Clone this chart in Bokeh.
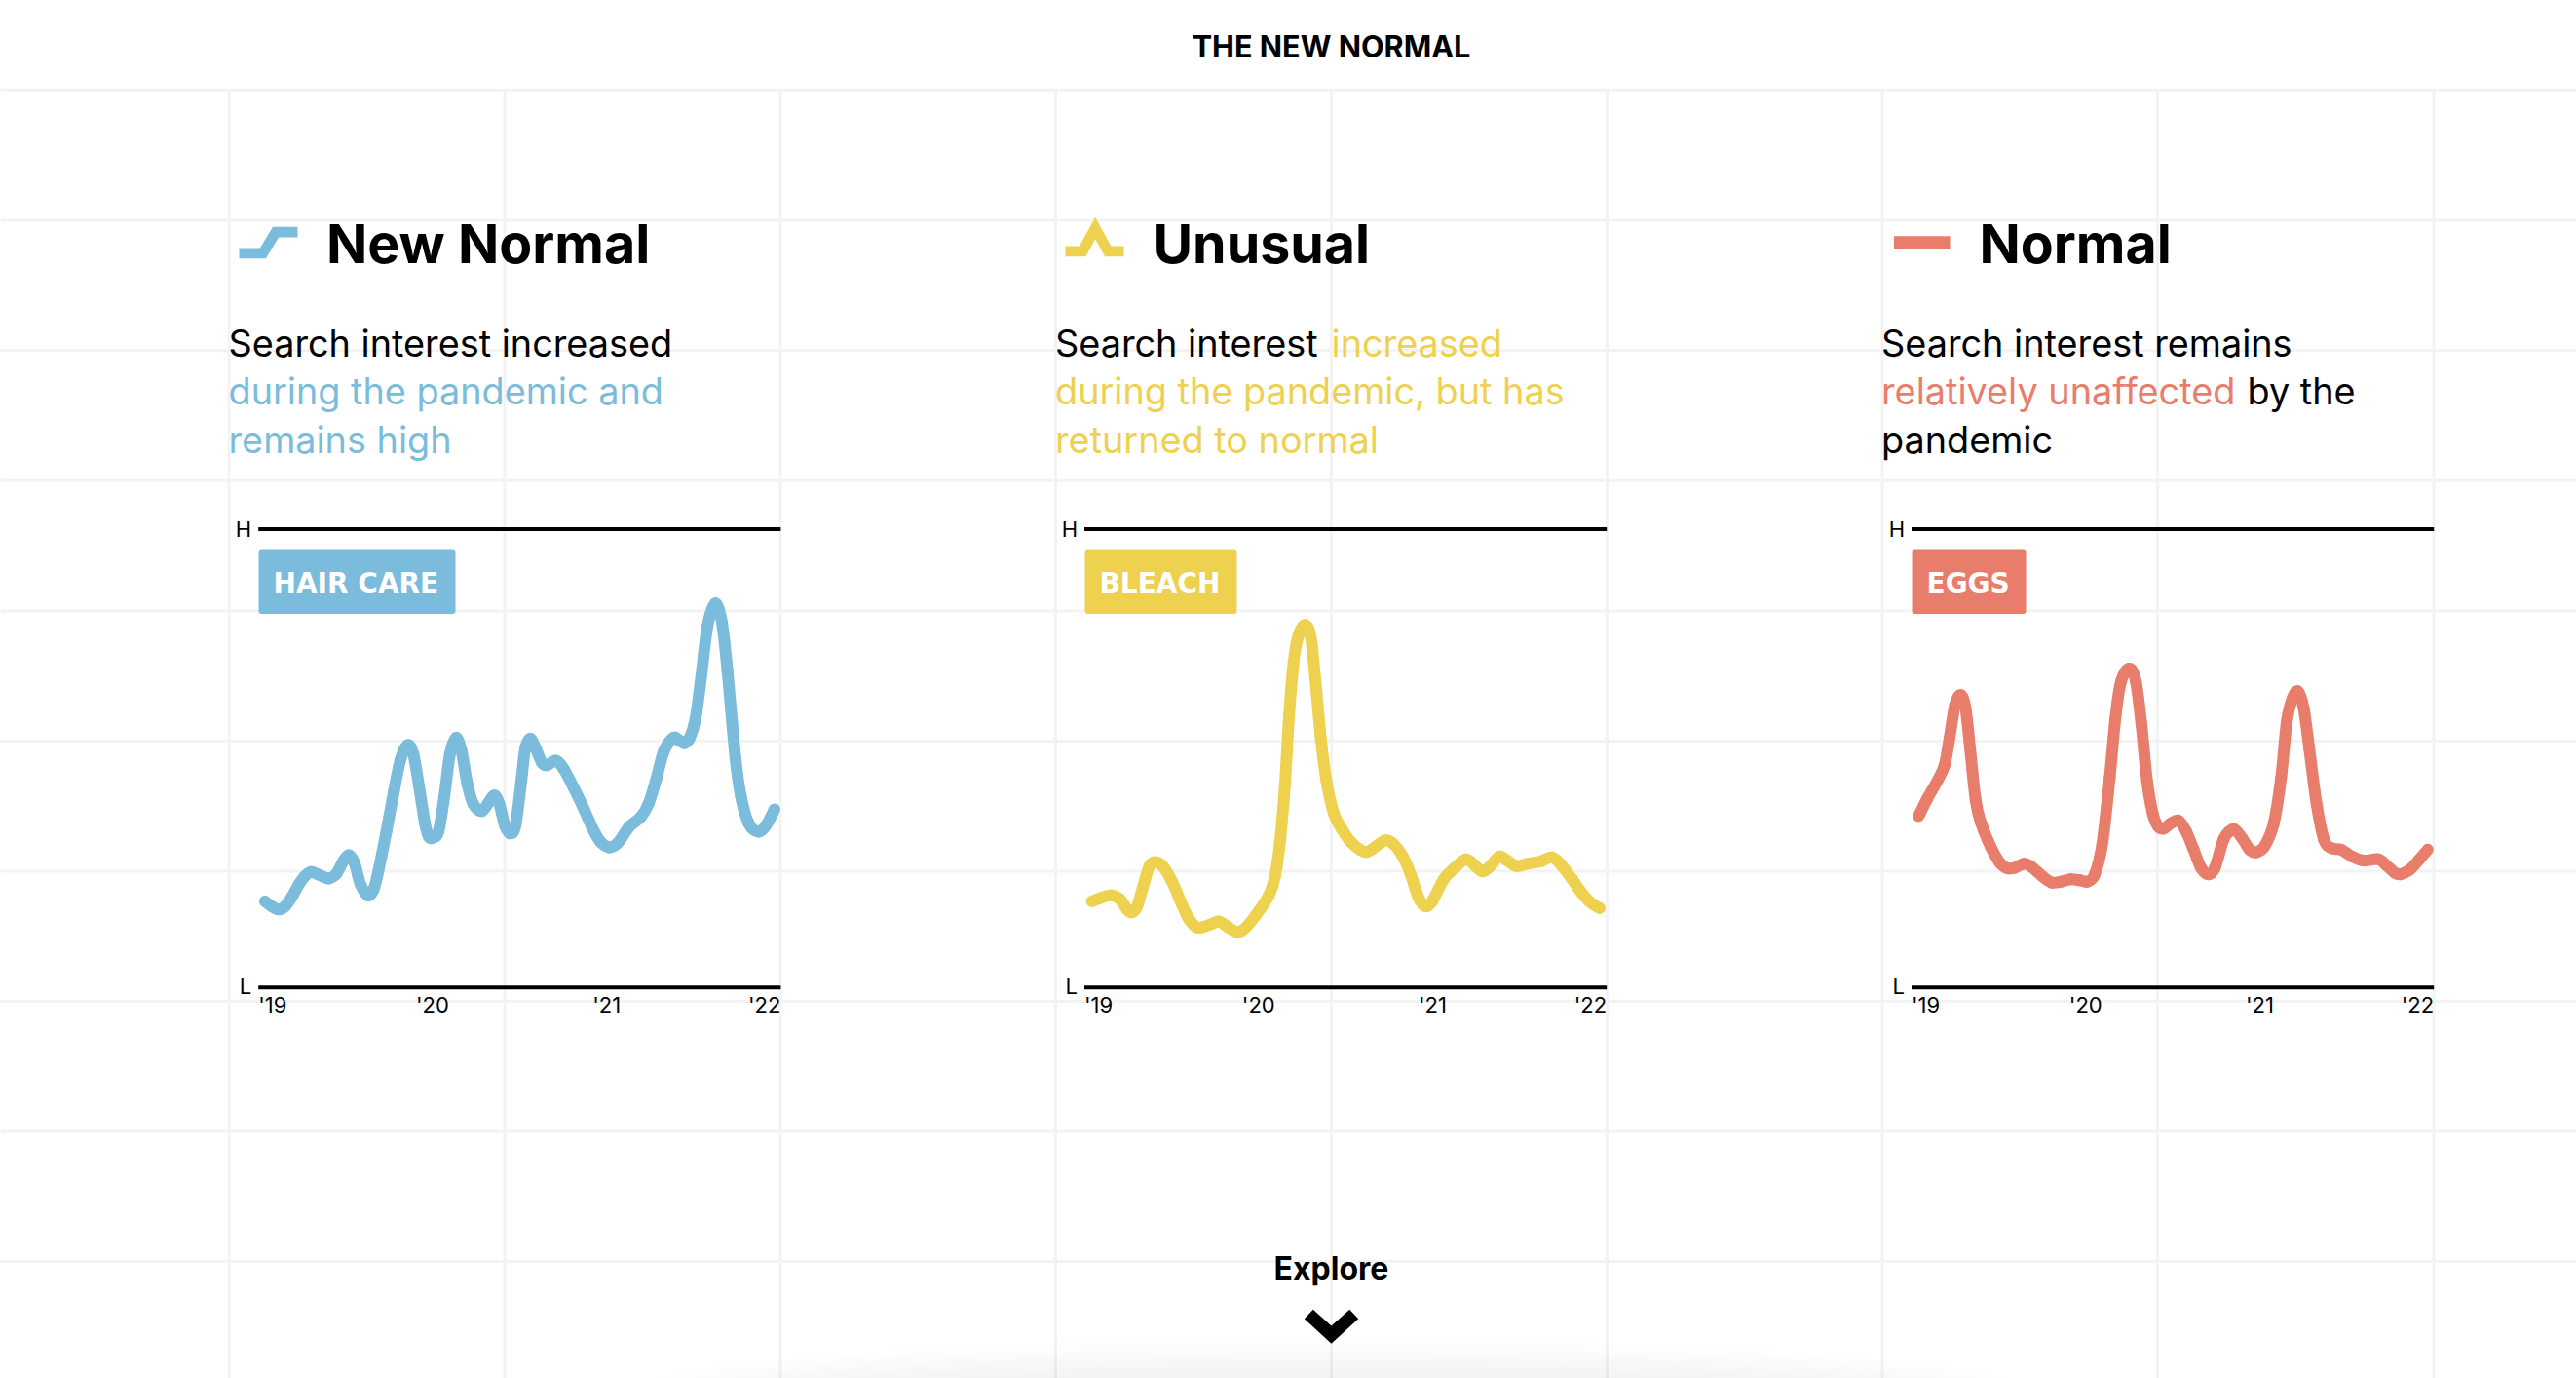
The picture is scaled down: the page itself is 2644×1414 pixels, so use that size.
from bokeh.plotting import figure
from bokeh.models import Range1d
from bokeh.core.properties import value
from bokeh.embed import file_html
from bokeh.resources import INLINE

# ---- data: search interest index (L=0 .. H=100) by months since Jan 2019
hair_months = [0.45,0.93,1.38,1.83,2.31,2.79,3.24,3.64,4.17,4.84,5.37,5.84,6.24,6.62,7.04,7.55,7.94,8.29,8.82,9.35,9.80,10.28,10.68,11.08,11.48,11.74,12.04,12.41,12.81,13.20,13.63,14.00,14.40,14.80,15.38,15.81,16.26,16.60,16.98,17.35,17.72,18.12,18.38,18.73,19.10,19.53,19.90,20.51,21.04,21.71,22.37,23.03,23.57,24.18,24.76,25.56,26.35,26.89,27.42,27.95,28.61,29.01,29.36,29.73,30.13,30.53,30.95,31.48,31.94,32.33,32.87,33.26,33.79,34.46,34.99,35.57]
hair_values = [18.8,17.7,17.0,17.7,19.8,22.5,24.4,25.2,24.6,23.8,24.8,27.5,28.9,27.2,22.5,20.1,21.4,25.7,34.0,43.0,49.8,52.9,50.9,43.7,35.8,32.9,32.7,34.0,41.6,50.9,54.5,51.6,44.4,40.1,38.5,40.1,41.9,40.1,35.4,33.6,35.4,45.1,52.0,54.3,52.3,49.1,48.5,49.5,47.7,43.7,39.4,34.7,31.8,30.6,31.5,35.1,37.2,40.1,45.5,51.6,54.5,53.9,53.3,54.5,58.8,68.2,78.9,83.8,79.7,68.9,50.2,41.6,35.8,34.0,35.4,38.9]
bleach_months = [0.51,1.15,1.85,2.44,2.95,3.28,3.64,4.05,4.49,4.88,5.39,6.03,6.67,7.19,7.70,8.08,8.72,9.29,9.88,10.52,11.03,11.80,12.70,13.14,13.47,13.81,14.11,14.42,14.75,15.22,15.60,15.91,16.29,16.68,17.19,17.71,18.35,18.99,19.50,20.14,20.73,21.30,21.94,22.45,22.97,23.30,23.61,23.99,24.76,25.53,26.30,26.94,27.46,27.97,28.61,29.13,29.77,30.54,31.43,32.20,32.85,33.62,34.26,34.90,35.51]
bleach_values = [18.8,19.6,20.1,19.3,17.0,16.4,17.7,22.1,26.5,27.4,26.5,23.2,18.5,15.0,13.2,13.1,13.8,14.4,13.2,12.1,12.8,15.7,20.0,24.3,31.5,43.7,59.5,71.0,76.8,79.1,76.4,67.4,54.5,45.1,38.0,34.7,31.8,30.1,29.6,30.9,32.1,31.3,28.6,25.0,20.0,18.2,17.7,18.9,23.6,26.1,28.0,26.5,25.3,26.5,28.6,27.7,26.5,27.0,27.5,28.4,26.8,23.6,20.7,18.5,17.3]
eggs_months = [0.49,1.08,1.85,2.29,2.62,3.00,3.39,3.72,4.03,4.42,4.80,5.44,6.09,6.60,7.11,7.76,8.27,9.04,9.68,10.32,10.97,11.61,12.12,12.63,13.15,13.66,14.05,14.43,15.02,15.46,15.84,16.23,16.62,17.00,17.39,17.90,18.41,18.93,19.44,19.95,20.47,20.90,21.49,21.88,22.26,22.78,23.29,23.75,24.32,24.96,25.47,25.86,26.25,26.63,27.02,27.40,27.91,28.43,28.94,29.58,30.35,31.12,32.15,32.67,33.31,33.69,34.33,34.98,35.57]
eggs_values = [37.4,41.2,45.5,48.7,54.5,61.7,63.8,61.0,52.3,40.8,35.8,30.8,27.2,26.0,26.1,27.0,26.3,24.2,22.9,23.1,23.6,23.4,23.1,24.7,31.5,45.9,58.8,66.7,69.6,66.7,57.4,45.1,38.0,35.1,34.7,35.9,36.4,34.0,30.1,26.1,24.7,26.1,32.2,34.0,34.5,32.6,30.1,29.5,30.8,35.8,45.9,58.1,63.1,64.6,61.0,52.3,40.1,32.2,30.4,30.1,28.6,27.7,28.0,26.8,25.0,24.7,25.7,27.9,30.1]
tick_months = [0, 12, 24, 36]
tick_labels = ["'19", "'20", "'21", "'22"]
page_title = "THE NEW NORMAL"
headings = ["New Normal", "Unusual", "Normal"]
badges = ["HAIR CARE", "BLEACH", "EGGS"]
colors = ["#7BBCDC", "#EDD14F", "#E97D6C"]

# ---- layout in page pixels
W, H = 2644, 1414
PX0, PY0 = 0, 0
INK = "#000000"
GRID = "#F3F3F3"
FONT = value("Inter")
BASE_SHIFT = 0.35  # alphabetic text sits lower than its anchor by this share of the font size

p = figure(width=W, height=H, output_backend="svg", toolbar_location=None,
           x_range=Range1d(PX0, PX0 + W), y_range=Range1d(PY0 + H, PY0),
           x_axis_location=None, y_axis_location=None,
           min_border=0, min_border_left=0, min_border_right=0, min_border_top=0, min_border_bottom=0,
           outline_line_color=None, background_fill_color="#FFFFFF", border_fill_color="#FFFFFF")
p.grid.visible = False

# background page grid
grid_x = [234.6, 517.5, 800.5, 1083, 1366, 1649, 1931.5, 2214, 2497.5]
grid_y = [91.8, 225.4, 359, 492.7, 626.4, 760, 893.5, 1027, 1160.5, 1294]
for gy in grid_y:
    p.segment(x0=PX0, x1=PX0 + W, y0=gy, y1=gy, line_color=GRID, line_width=3)
for gx in grid_x:
    p.segment(x0=gx, x1=gx, y0=grid_y[0] - 1.5, y1=PY0 + H, line_color=GRID, line_width=3)

# faint bottom shadow: stacked soft ellipses
for i in range(12):
    p.ellipse(x=[1368], y=[1428], width=1440 - i * 30, height=112 - i * 7, fill_color="#000000",
              fill_alpha=0.004, line_color=None)

# panels: each has its own month / index scales mapped onto the page
panel_left = [264.7, 1112.5, 1961.5]
PANEL_W = 536.2
Y_H, Y_L = 542.6, 1012.8
per_month = PANEL_W / 36
per_unit = (Y_L - Y_H) / 100
p.extra_y_ranges["index"] = Range1d((Y_L - (PY0 + H)) / per_unit, (Y_L - PY0) / per_unit)

def smooth(xs, ys, **kw):
    """Draw a curve through the read points with bezier pieces (Catmull-Rom handles)."""
    n = len(xs)
    x0, y0, x1, y1, cx0, cy0, cx1, cy1 = [], [], [], [], [], [], [], []
    for j in range(n - 1):
        a, b = max(j - 1, 0), min(j + 2, n - 1)
        x0.append(xs[j]); y0.append(ys[j]); x1.append(xs[j + 1]); y1.append(ys[j + 1])
        cx0.append(xs[j] + (xs[j + 1] - xs[a]) / 6); cy0.append(ys[j] + (ys[j + 1] - ys[a]) / 6)
        cx1.append(xs[j + 1] - (xs[b] - xs[j]) / 6); cy1.append(ys[j + 1] - (ys[b] - ys[j]) / 6)
    p.bezier(x0=x0, y0=y0, x1=x1, y1=y1, cx0=cx0, cy0=cy0, cx1=cx1, cy1=cy1, **kw)

TICK = 22
series = [(hair_months, hair_values), (bleach_months, bleach_values), (eggs_months, eggs_values)]
for i, (mx, my) in enumerate(series):
    name = f"panel{i}"
    left = panel_left[i]
    p.extra_x_ranges[name] = Range1d((PX0 - left) / per_month, (PX0 + W - left) / per_month)
    kw = dict(x_range_name=name, y_range_name="index")
    for level in (100, 0):
        p.line(x=[tick_months[0], tick_months[-1]], y=[level, level], line_color=INK, line_width=4, **kw)
    smooth(mx, my, line_color=colors[i], line_width=12, line_cap="round", **kw)
    aligns = ["left", "center", "center", "right"]
    for t, lab, al in zip(tick_months, tick_labels, aligns):
        p.text(x=[t], y=[0], text=[lab], text_font=FONT, text_font_size=f"{TICK}px", text_color=INK,
               text_align=al, text_baseline="alphabetic", y_offset=[25.8 - BASE_SHIFT * TICK], **kw)
    p.text(x=[0], y=[100], text=["H"], text_font=FONT, text_font_size=f"{TICK}px", text_color=INK,
           text_align="right", text_baseline="alphabetic", x_offset=[-7], y_offset=[7.1 - BASE_SHIFT * TICK], **kw)
    p.text(x=[0], y=[0], text=["L"], text_font=FONT, text_font_size=f"{TICK}px", text_color=INK,
           text_align="right", text_baseline="alphabetic", x_offset=[-7], y_offset=[6.2 - BASE_SHIFT * TICK], **kw)

def label(x, y, s, size, color=INK, style="normal", align="left", font=FONT):
    p.text(x=[x], y=[y - BASE_SHIFT * size], text=[s], text_font=font, text_font_size=f"{size}px", text_color=color,
           text_font_style=style, text_align=align, text_baseline="alphabetic")

label(1366, 58, page_title, 30.6, style="bold", align="center")
label(1366, 1312, "Explore", 32, style="bold", align="center")
p.patch(x=[1338.3, 1347.3, 1366, 1384.7, 1393.7, 1366], y=[1352.7, 1343.3, 1360, 1343.3, 1352.7, 1378.3], fill_color=INK, line_color=None)

# badges
badge_boxes = [(265, 467), (1113, 1269), (1962, 2079)]
for (l, r), txt, c in zip(badge_boxes, badges, colors):
    p.quad(left=l, right=r, top=563, bottom=629.5, fill_color=c, line_color=None, border_radius=3)
    label(l + 15, 608, txt, 28, color="#FFFFFF", style="bold", font=value("DejaVu Sans"))

# headings and icons
HEAD_SIZE = 55.5
label(334.5, 268, headings[0], HEAD_SIZE, style="bold")
label(1183, 268, headings[1], HEAD_SIZE, style="bold")
label(2031, 268, headings[2], HEAD_SIZE, style="bold")
p.line(x=[245, 269.4, 282.5, 305], y=[259.3, 259.3, 237.7, 237.7], line_color=colors[0], line_width=10.7, line_join="miter", line_cap="butt")
p.line(x=[1093, 1110.7, 1123.7, 1136.7, 1153], y=[257.3, 257.3, 233.5, 257.3, 257.3], line_color=colors[1], line_width=10.7, line_join="miter", line_cap="butt")
p.line(x=[1943.4, 2001], y=[248.3, 248.3], line_color=colors[2], line_width=13, line_cap="butt")

# body text
BODY = 37.8
L1, L2, L3 = 365, 414, 463.5
label(234, L1, "Search interest increased", BODY)
label(234, L2, "during the pandemic and", BODY, color=colors[0])
label(234, L3, "remains high", BODY, color=colors[0])
label(1082.5, L1, "Search interest", BODY)
label(1366, L1, "increased", BODY, color=colors[1])
label(1082.5, L2, "during the pandemic, but has", BODY, color=colors[1])
label(1082.5, L3, "returned to normal", BODY, color=colors[1])
label(1930.5, L1, "Search interest remains", BODY)
label(1930.5, L2, "relatively unaffected", BODY, color=colors[2])
label(2306, L2, "by the", BODY)
label(1930.5, L3, "pandemic", BODY)

open("out.html", "w").write(file_html(p, INLINE))
